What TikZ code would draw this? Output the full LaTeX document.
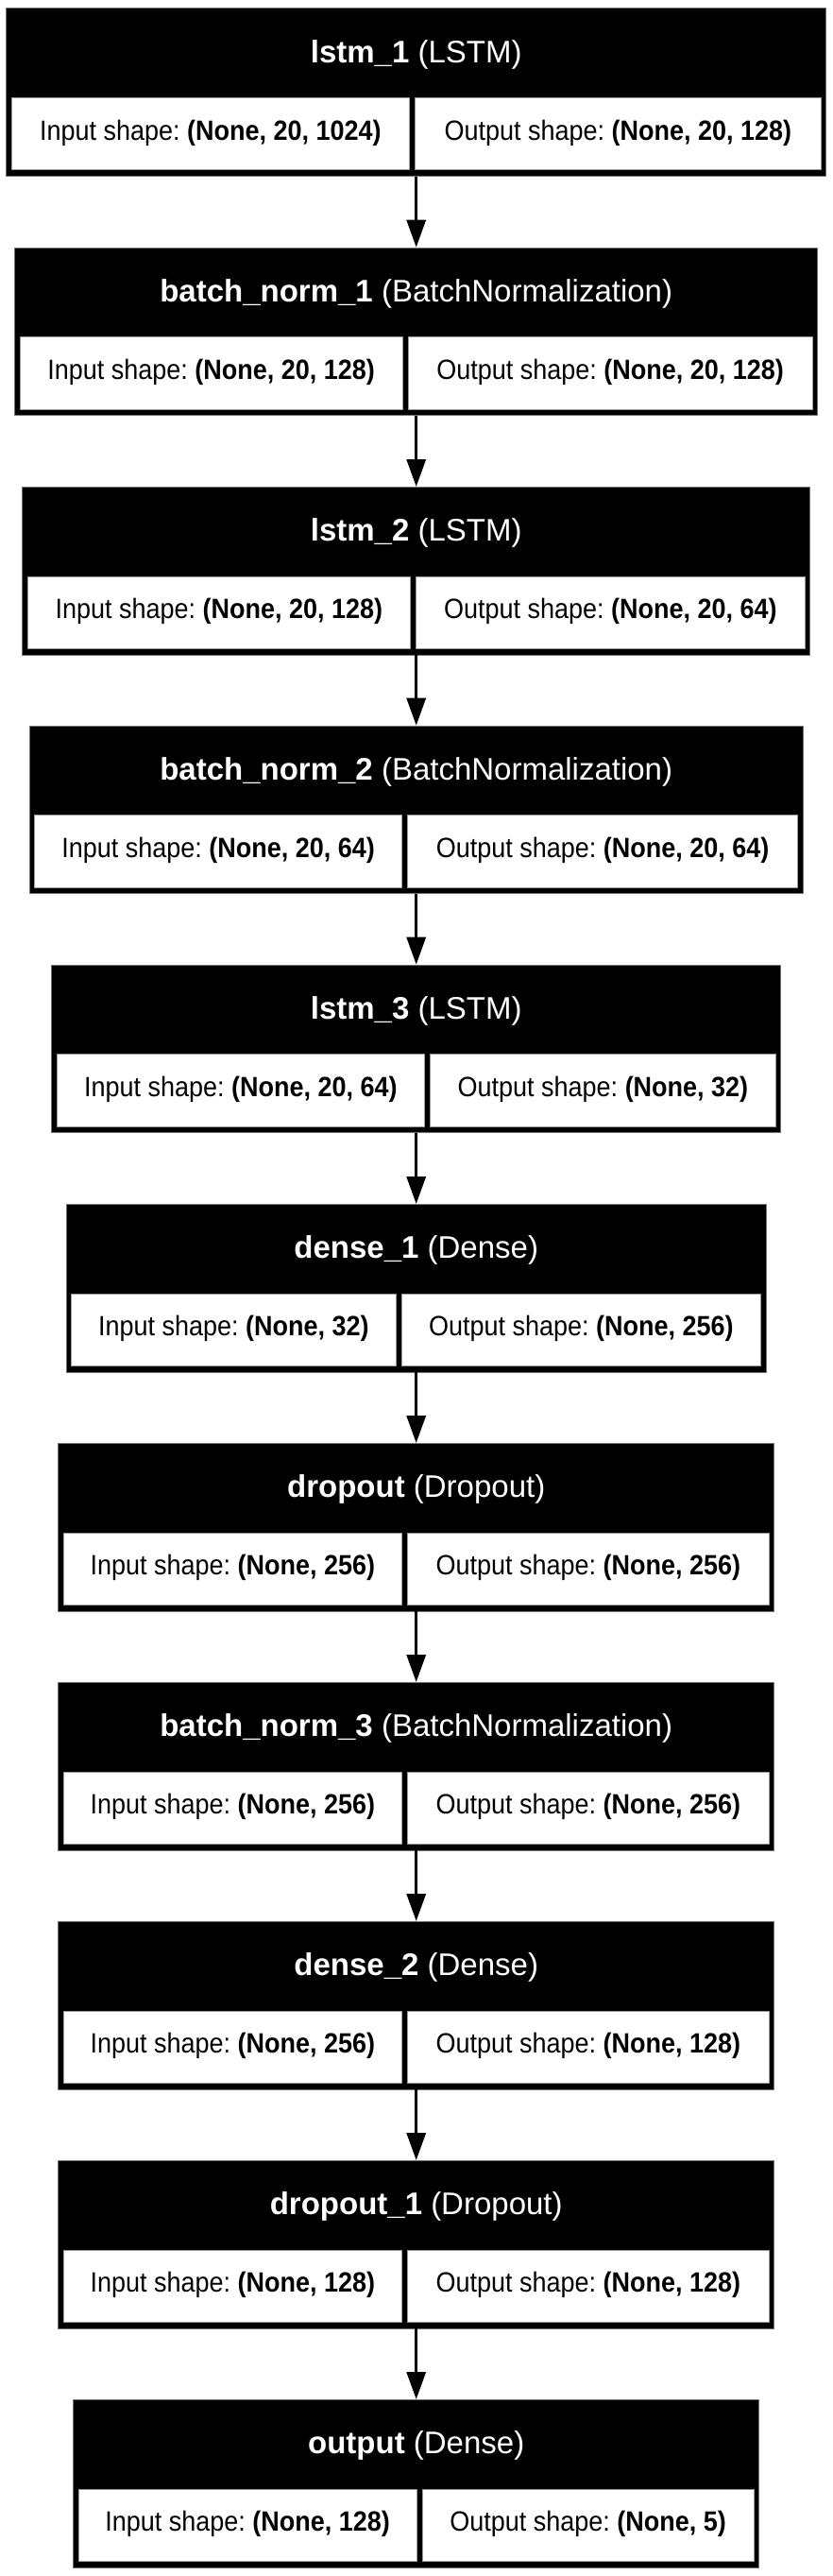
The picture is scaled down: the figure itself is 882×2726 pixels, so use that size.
\documentclass[tikz,border=0pt]{standalone}
\usepackage{fontspec}
\setmainfont{Liberation Sans}
\newfontfamily\bodyfont{Liberation Sans}[FakeStretch=0.915]
\frenchspacing
\usetikzlibrary{arrows.meta}
\tikzset{
  outerbox/.style={draw=black!55, line width=0.8pt, fill=black, inner sep=0pt, minimum height=177.5pt},
  titletext/.style={text=white, inner sep=0pt, text height=24pt, text depth=3.6pt, font=\fontsize{33}{40}\selectfont},
  cellbox/.style={draw=black!40, line width=0.8pt, fill=white, inner sep=0pt, minimum height=76.5pt,
     text height=21.1pt, text depth=7.7pt, font=\bodyfont\fontsize{29.5}{34}\selectfont},
  flowarrow/.style={line width=3.2pt, -{Triangle[length=29pt,width=20pt]}}
}
\newcommand\kerasblock[8]{%
  \pgfmathsetmacro\bL{440.7-#3/2}%
  \pgfmathsetmacro\bR{440.7+#3/2}%
  \pgfmathsetmacro\lw{(#4-3)-(\bL+5.5)}%
  \pgfmathsetmacro\lc{((#4-3)+(\bL+5.5))/2}%
  \pgfmathsetmacro\rw{(\bR-5.5)-(#4+3)}%
  \pgfmathsetmacro\rc{((\bR-5.5)+(#4+3))/2}%
  \pgfmathsetmacro\ty{#2+47.5}%
  \pgfmathsetmacro\cy{#2+133.25}%
  \node[outerbox, minimum width=#3pt, anchor=north] (#1) at (440.7,#2) {};
  \node[titletext] (#1t) at (440.7,\ty) {\textbf{#5} #6};
  \node[cellbox, minimum width=\lw pt] (#1i) at (\lc,\cy) {Input shape: \textbf{#7}};
  \node[cellbox, minimum width=\rw pt] (#1o) at (\rc,\cy) {Output shape: \textbf{#8}};
}
\begin{document}
\begin{tikzpicture}[x=1pt,y=-1pt]
\useasboundingbox[fill=white] (0,0) rectangle (882,2726);
\kerasblock{b1}{8.3}{868}{436.5}{lstm\_1}{(LSTM)}{(None, 20, 1024)}{(None, 20, 128)}
\kerasblock{b2}{261.7}{850}{429}{batch\_norm\_1}{(BatchNormalization)}{(None, 20, 128)}{(None, 20, 128)}
\kerasblock{b3}{515}{834}{437.5}{lstm\_2}{(LSTM)}{(None, 20, 128)}{(None, 20, 64)}
\kerasblock{b4}{767.7}{819}{428.5}{batch\_norm\_2}{(BatchNormalization)}{(None, 20, 64)}{(None, 20, 64)}
\kerasblock{b5}{1020.7}{772}{452.7}{lstm\_3}{(LSTM)}{(None, 20, 64)}{(None, 32)}
\kerasblock{b6}{1274}{741}{422}{dense\_1}{(Dense)}{(None, 32)}{(None, 256)}
\kerasblock{b7}{1527}{758}{428.5}{dropout}{(Dropout)}{(None, 256)}{(None, 256)}
\kerasblock{b8}{1780}{758}{428.5}{batch\_norm\_3}{(BatchNormalization)}{(None, 256)}{(None, 256)}
\kerasblock{b9}{2033}{758}{428.5}{dense\_2}{(Dense)}{(None, 256)}{(None, 128)}
\kerasblock{b10}{2286}{758}{428.5}{dropout\_1}{(Dropout)}{(None, 128)}{(None, 128)}
\kerasblock{b11}{2539}{726}{444}{output}{(Dense)}{(None, 128)}{(None, 5)}
\draw[flowarrow] (b1.south) -- (b2.north);
\draw[flowarrow] (b2.south) -- (b3.north);
\draw[flowarrow] (b3.south) -- (b4.north);
\draw[flowarrow] (b4.south) -- (b5.north);
\draw[flowarrow] (b5.south) -- (b6.north);
\draw[flowarrow] (b6.south) -- (b7.north);
\draw[flowarrow] (b7.south) -- (b8.north);
\draw[flowarrow] (b8.south) -- (b9.north);
\draw[flowarrow] (b9.south) -- (b10.north);
\draw[flowarrow] (b10.south) -- (b11.north);
\end{tikzpicture}
\end{document}
